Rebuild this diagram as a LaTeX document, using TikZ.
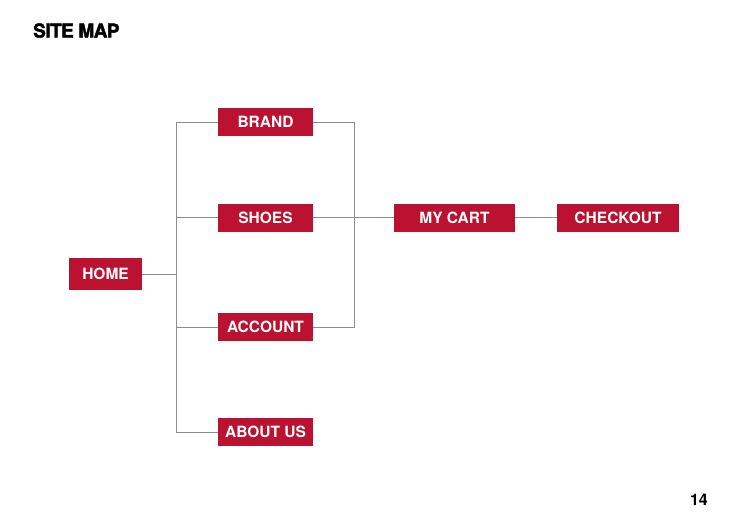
\documentclass[tikz,border=0pt]{standalone}
\usepackage{fontspec}
\setmainfont{TeX Gyre Heros}
\newfontfamily\heavyfont[FakeBold=2.2,LetterSpace=-3]{TeX Gyre Heros Bold}
\definecolor{boxred}{RGB}{186,18,48}
\definecolor{linegray}{RGB}{140,140,140}
\tikzset{
  pagebox/.style={fill=boxred, draw=none, text=white, inner sep=0pt,
    minimum width=95pt, minimum height=28pt, font=\fontsize{15.5}{15.5}\selectfont\bfseries},
  link/.style={draw=linegray, line width=1pt}
}
\begin{document}
\begin{tikzpicture}[x=1pt,y=1pt]
\useasboundingbox (0,0) rectangle (735,-520);
\node[anchor=base west, inner sep=0pt, font=\fontsize{19}{19}\heavyfont] (title) at (33,-37.5) {SITE MAP};
\node[anchor=base east, inner sep=0pt, font=\fontsize{16}{16}\selectfont\bfseries] (pagenum) at (708,-505) {14};

\node[pagebox, minimum width=73pt, minimum height=32pt] (home) at (105.5,-274) {HOME};
\node[pagebox] (brand) at (265.5,-122) {BRAND};
\node[pagebox] (shoes) at (265.5,-217.5) {SHOES};
\node[pagebox] (account) at (265.5,-327) {ACCOUNT};
\node[pagebox] (aboutus) at (265.5,-432) {ABOUT US};
\node[pagebox, minimum width=121pt] (mycart) at (454.5,-217.5) {MY CART};
\node[pagebox, minimum width=122pt] (checkout) at (618,-217.5) {CHECKOUT};

\coordinate (busL) at (176,0);
\coordinate (busR) at (354.5,0);

\path[link] (home.east) -- (home.east -| busL);
\path[link] (brand.west) -- (brand.west -| busL) -- (aboutus.west -| busL) -- (aboutus.west);
\path[link] (shoes.west) -- (shoes.west -| busL);
\path[link] (account.west) -- (account.west -| busL);
\path[link] (brand.east) -- (brand.east -| busR) -- (account.east -| busR) -- (account.east);
\path[link] (shoes.east) -- (mycart.west);
\path[link] (mycart.east) -- (checkout.west);
\end{tikzpicture}
\end{document}
